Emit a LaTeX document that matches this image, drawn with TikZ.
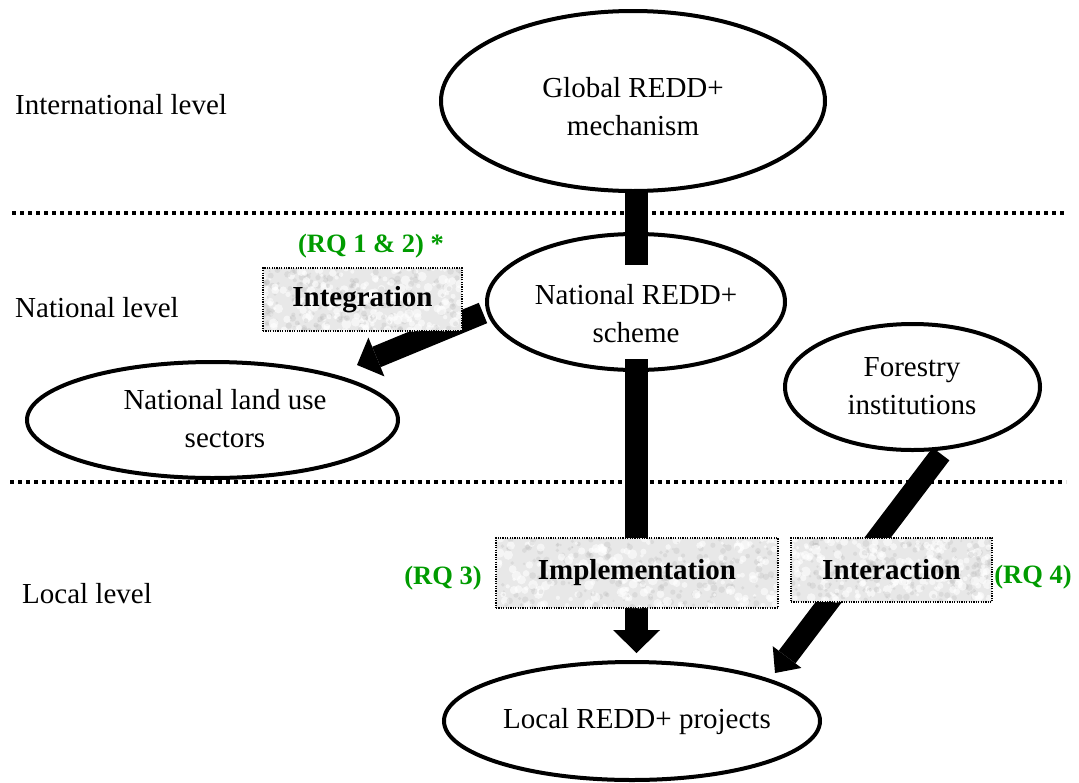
\documentclass[tikz,border=0pt]{standalone}
\usepackage{fontspec}
\setmainfont{Liberation Serif}
\usetikzlibrary{shapes.geometric,arrows.meta,calc}
\definecolor{rqgreen}{RGB}{0,155,0}
\definecolor{tagfill}{RGB}{232,232,232}
\begin{document}
\begin{tikzpicture}[x=1pt,y=-1pt,
  oval/.style={ellipse,draw,line width=4pt,fill=white,inner sep=0pt},
  ovaltext/.style={align=center,font=\fontsize{29}{38}\selectfont,inner sep=0pt},
  level/.style={anchor=west,font=\fontsize{29}{35}\selectfont,inner sep=0pt},
  rq/.style={text=rqgreen,font=\fontsize{26.5}{32}\selectfont\bfseries,inner sep=0pt},
  bar/.style={line width=23pt,line cap=butt},
  mottled/.style={path picture={
    \path (path picture bounding box.south west) coordinate (mA)
          (path picture bounding box.north east) coordinate (mB);
    \foreach \k in {1,...,200}{
      \pgfmathsetmacro\mottU{rnd}\pgfmathsetmacro\mottV{rnd}\pgfmathsetmacro\mottR{1.5+3.5*rnd}
      \fill[white,opacity=.6] let \p1=(mA),\p2=(mB) in
        ({\x1+\mottU*(\x2-\x1)},{\y1+\mottV*(\y2-\y1)}) circle[radius=\mottR];
      \pgfmathsetmacro\mottU{rnd}\pgfmathsetmacro\mottV{rnd}\pgfmathsetmacro\mottR{1+2.5*rnd}
      \fill[black!30,opacity=.25] let \p1=(mA),\p2=(mB) in
        ({\x1+\mottU*(\x2-\x1)},{\y1+\mottV*(\y2-\y1)}) circle[radius=\mottR];
    }
  }},
  tag/.style={draw,line width=1.2pt,dash pattern=on 1.2pt off 1.2pt,fill=tagfill,
    inner sep=0pt,font=\fontsize{29}{35}\selectfont\bfseries,mottled},
  sep/.style={line width=3.5pt,dash pattern=on 4pt off 4pt},
]
\pgfmathsetseed{11}
\useasboundingbox (0,0) rectangle (1079,782);

% ellipses below the connectors
\node[oval,minimum width=298pt,minimum height=136pt] (nat) at (636,302) {};
\node[oval,minimum width=255pt,minimum height=126pt] (for) at (912.5,387) {};
\node[oval,minimum width=371pt,minimum height=116pt] (land) at (212.5,420) {};
\node[oval,minimum width=376pt,minimum height=118pt] (loc) at (632,721) {};

% level separators
\draw[sep] (12,213) -- (1066,213);
\draw[sep] (10,482) -- (1066,482);

% connector end points
\coordinate (g1) at (636.5,188);
\coordinate (n1) at (636.5,265);
\coordinate (n2) at (636.5,359);
\coordinate (l1) at (636.5,653);
\coordinate (n3) at (483,313);
\coordinate (s1) at (357,365);
\coordinate (f1) at (941,454);
\coordinate (l2) at (775,673);

% connectors
\draw[bar] (g1) -- (n1);
\draw[bar,-{Triangle[width=47pt,length=23pt,line width=0pt]}] (n2) -- (l1);
\draw[line width=22pt,-{Triangle[width=42pt,length=21pt,line width=0pt]}] (n3) -- (s1);
\draw[line width=21pt,-{Triangle[width=36pt,length=20pt,line width=0pt]}] (f1) -- (l2);

% top ellipse covers the bar end
\node[oval,minimum width=384pt,minimum height=180pt] (glob) at (633,101) {};

% process boxes
\node[tag,minimum width=199pt,minimum height=63pt] (integ) at (362.5,299.5) {Integration};
\node[tag,minimum width=282pt,minimum height=70pt] (impl) at (637,573) {Implementation};
\node[tag,minimum width=201pt,minimum height=64pt] (inter) at (891.5,570) {Interaction};

% ellipse texts
\node[ovaltext] (globT) at (633,107) {Global REDD+\\mechanism};
\node[ovaltext] (natT) at (636,314) {National REDD+\\scheme};
\node[ovaltext] (forT) at (912,386) {Forestry\\institutions};
\node[ovaltext] (landT) at (225,419) {National land use\\sectors};
\node[ovaltext] (locT) at (637,722) {Local REDD+ projects};

% levels
\node[level] (intl) at (15,105) {International level};
\node[level] (natl) at (15,308) {National level};
\node[level] (locl) at (22,594) {Local level};

% research questions
\node[rq] (rq12) at (371,246) {(RQ 1 \& 2) *};
\node[rq] (rq3) at (443,578) {(RQ 3)};
\node[rq] (rq4) at (1033,577) {(RQ 4)};
\end{tikzpicture}
\end{document}
